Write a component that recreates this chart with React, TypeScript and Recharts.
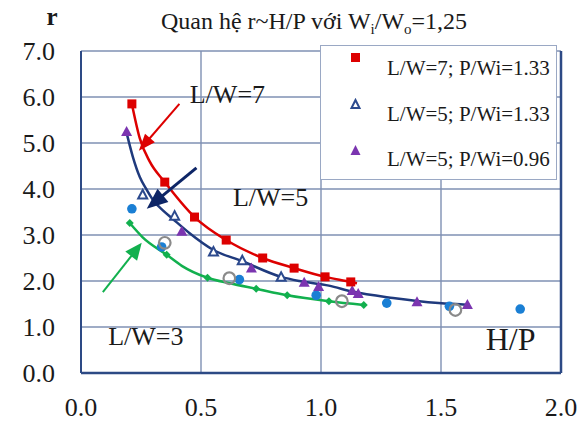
import React from 'react';
import {
  ComposedChart, Line, Scatter, XAxis, YAxis, CartesianGrid,
  ReferenceLine, ReferenceDot, Legend,
} from 'recharts';

// ---------- data ----------
const xTicks = [0, 0.5, 1.0, 1.5, 2.0];
const yTicks = [0, 1, 2, 3, 4, 5, 6, 7];

// L/W=7; P/Wi=1.33 (red squares)
const redSquares = [
  { x: 0.212, y: 5.85 }, { x: 0.349, y: 4.15 }, { x: 0.473, y: 3.39 },
  { x: 0.605, y: 2.89 }, { x: 0.757, y: 2.5 }, { x: 0.888, y: 2.28 },
  { x: 1.017, y: 2.09 }, { x: 1.124, y: 1.98 },
];
// red trend curve
const redCurve = [
  { x: 0.212, y: 5.85 }, { x: 0.245, y: 5.1 }, { x: 0.286, y: 4.6 },
  { x: 0.349, y: 4.15 }, { x: 0.473, y: 3.39 }, { x: 0.605, y: 2.89 },
  { x: 0.757, y: 2.5 }, { x: 0.888, y: 2.28 }, { x: 1.017, y: 2.09 },
  { x: 1.124, y: 1.98 }, { x: 1.15, y: 1.95 },
];
// L/W=5; P/Wi=1.33 (hollow navy triangles)
const navyTriangles = [
  { x: 0.257, y: 3.87 }, { x: 0.39, y: 3.41 }, { x: 0.552, y: 2.63 },
  { x: 0.672, y: 2.44 }, { x: 0.834, y: 2.08 },
];
// L/W=5; P/Wi=0.96 (filled purple triangles)
const purpleTriangles = [
  { x: 0.19, y: 5.24 }, { x: 0.42, y: 3.07 }, { x: 0.71, y: 2.27 },
  { x: 0.93, y: 1.96 }, { x: 0.99, y: 1.87 }, { x: 1.13, y: 1.78 },
  { x: 1.155, y: 1.72 }, { x: 1.4, y: 1.54 }, { x: 1.61, y: 1.48 },
];
// navy trend curve (L/W=5)
const navyCurve = [
  { x: 0.19, y: 5.22 }, { x: 0.216, y: 4.7 }, { x: 0.245, y: 4.26 },
  { x: 0.274, y: 3.98 }, { x: 0.3, y: 3.76 }, { x: 0.34, y: 3.54 },
  { x: 0.378, y: 3.37 }, { x: 0.45, y: 3.05 }, { x: 0.55, y: 2.68 },
  { x: 0.672, y: 2.43 }, { x: 0.834, y: 2.09 }, { x: 0.91, y: 2.0 },
  { x: 1.033, y: 1.9 }, { x: 1.13, y: 1.77 }, { x: 1.3, y: 1.63 },
  { x: 1.49, y: 1.52 }, { x: 1.62, y: 1.48 },
];
// L/W=3 (green diamonds + curve)
const greenDiamonds = [
  { x: 0.203, y: 3.26 }, { x: 0.357, y: 2.57 }, { x: 0.527, y: 2.07 },
  { x: 0.73, y: 1.83 }, { x: 0.859, y: 1.69 }, { x: 1.033, y: 1.56 },
  { x: 1.178, y: 1.48 },
];
const greenCurve = [
  { x: 0.203, y: 3.26 }, { x: 0.257, y: 2.95 }, { x: 0.357, y: 2.57 },
  { x: 0.42, y: 2.33 }, { x: 0.527, y: 2.07 }, { x: 0.62, y: 1.95 },
  { x: 0.73, y: 1.83 }, { x: 0.859, y: 1.69 }, { x: 1.033, y: 1.56 },
  { x: 1.178, y: 1.48 },
];
// other measured points
const blueDots = [
  { x: 0.212, y: 3.57 }, { x: 0.336, y: 2.74 }, { x: 0.66, y: 2.03 },
  { x: 0.98, y: 1.69 }, { x: 1.274, y: 1.52 }, { x: 1.535, y: 1.45 },
  { x: 1.83, y: 1.39 },
];
const grayRings = [
  { x: 0.349, y: 2.83 }, { x: 0.618, y: 2.06 }, { x: 1.087, y: 1.56 },
  { x: 1.56, y: 1.37 },
];

// annotations (data units)
const curveLabels = [
  { text: 'L/W=7', x: 0.61, y: 6.08 },
  { text: 'L/W=5', x: 0.79, y: 3.83 },
  { text: 'L/W=3', x: 0.27, y: 0.8 },
];
const axisNameX = { text: 'H/P', x: 1.79, y: 0.74 };
const redArrow = [{ x: 0.41, y: 5.85 }, { x: 0.241, y: 4.83 }];
const navyArrow = [{ x: 0.481, y: 4.46 }, { x: 0.274, y: 3.57 }];
const greenArrow = [{ x: 0.091, y: 1.76 }, { x: 0.253, y: 2.83 }];

const legendNames = ['L/W=7; P/Wi=1.33', 'L/W=5; P/Wi=1.33', 'L/W=5; P/Wi=0.96'];

// ---------- styles ----------
const FONT = 'Liberation Serif';
const RED = '#dd0000';
const NAVY = '#1f3a7d';
const NAVY_T = '#2c4a8e';
const PURPLE = '#7b35b0';
const BLUE = '#1a7fd4';
const GREEN = '#12b04e';
const GRAY = '#8a8a8a';
const GRID = '#7f90b3';
const FRAME = '#2d4a85';
const TEXT = '#1a1a1a';

const SquareShape = (p: any) => (
  <rect x={p.cx - 4.5} y={p.cy - 4.5} width={9} height={9} fill={RED} />
);
const HollowTri = (p: any) => (
  <polygon
    points={`${p.cx},${p.cy - 5} ${p.cx - 4.5},${p.cy + 3.5} ${p.cx + 4.5},${p.cy + 3.5}`}
    fill="#fff" stroke={NAVY_T} strokeWidth={2}
  />
);
const FilledTri = (p: any) => (
  <polygon
    points={`${p.cx},${p.cy - 6} ${p.cx - 5.5},${p.cy + 4} ${p.cx + 5.5},${p.cy + 4}`}
    fill={PURPLE}
  />
);
const Diamond = (p: any) => (
  <polygon
    points={`${p.cx},${p.cy - 4} ${p.cx + 4},${p.cy} ${p.cx},${p.cy + 4} ${p.cx - 4},${p.cy}`}
    fill={GREEN}
  />
);
const BlueDot = (p: any) => <circle cx={p.cx} cy={p.cy} r={4.8} fill={BLUE} />;
const GrayRing = (p: any) => (
  <circle cx={p.cx} cy={p.cy} r={5.8} fill="none" stroke={GRAY} strokeWidth={2.2} />
);

const makeArrow = (color: string, w: number, headLen: number, headW: number) => (props: any) => {
  const { x1, y1, x2, y2 } = props;
  const dx = x2 - x1;
  const dy = y2 - y1;
  const len = Math.hypot(dx, dy) || 1;
  const ux = dx / len;
  const uy = dy / len;
  const bx = x2 - ux * headLen;
  const by = y2 - uy * headLen;
  const px = -uy;
  const py = ux;
  return (
    <g>
      <line x1={x1} y1={y1} x2={bx + ux * 2} y2={by + uy * 2} stroke={color} strokeWidth={w} />
      <polygon
        points={`${x2},${y2} ${bx + (px * headW) / 2},${by + (py * headW) / 2} ${bx - (px * headW) / 2},${by - (py * headW) / 2}`}
        fill={color}
      />
    </g>
  );
};

const legendMarkers = [
  <rect key="a" x={2} y={2} width={9} height={9} fill={RED} />,
  <polygon key="b" points="6.5,2 2.5,10 10.5,10" fill="#fff" stroke={NAVY_T} strokeWidth={2} />,
  <polygon key="c" points="6.5,1 1.5,11 11.5,11" fill={PURPLE} />,
];

const LegendBox = () => (
  <div
    style={{
      position: 'relative', width: 237, height: 135, background: '#fff',
      border: '1px solid #9aa8c4', boxSizing: 'border-box', fontFamily: FONT,
    }}
  >
    {legendNames.map((name, i) => (
      <React.Fragment key={name}>
        <svg
          width={13} height={13}
          style={{ position: 'absolute', left: 28, top: 5 + i * 46.5 }}
        >
          {legendMarkers[i]}
        </svg>
        <div
          style={{
            position: 'absolute', left: 66, top: 9 + i * 45.5, fontSize: 21,
            lineHeight: '26px', color: TEXT, whiteSpace: 'nowrap', fontFamily: FONT,
          }}
        >
          {name}
        </div>
      </React.Fragment>
    ))}
  </div>
);

const tickStyle = { fontSize: 26, fill: TEXT, fontFamily: FONT };

export default function App() {
  return (
    <div style={{ position: 'relative', width: 579, height: 416, fontFamily: FONT }}>
      <ComposedChart
        width={579}
        height={416}
        margin={{ top: 43, right: 26, bottom: 6, left: 0 }}
        style={{ fontFamily: FONT }}
      >
        <CartesianGrid stroke={GRID} strokeWidth={1.4} />
        <XAxis
          dataKey="x" type="number" domain={[0, 2]} ticks={xTicks}
          tickFormatter={(v: number) => v.toFixed(1)}
          axisLine={{ stroke: FRAME, strokeWidth: 2.5 }} tickLine={false}
          tickSize={0} tickMargin={25} height={45} tick={tickStyle}
          allowDataOverflow
        />
        <YAxis
          type="number" domain={[0, 7]} ticks={yTicks}
          tickFormatter={(v: number) => v.toFixed(1)}
          axisLine={{ stroke: FRAME, strokeWidth: 2 }} tickLine={false}
          tickSize={0} tickMargin={26} width={73} tick={tickStyle}
          allowDataOverflow
        />
        <ReferenceLine x={2} stroke={FRAME} strokeWidth={2.5} />
        <Line data={redCurve} dataKey="y" type="monotone" stroke={RED} strokeWidth={2.5}
          dot={false} isAnimationActive={false} legendType="none" />
        <Line data={navyCurve} dataKey="y" type="monotone" stroke={NAVY} strokeWidth={2.5}
          dot={false} isAnimationActive={false} legendType="none" />
        <Line data={greenCurve} dataKey="y" type="monotone" stroke={GREEN} strokeWidth={2.5}
          dot={false} isAnimationActive={false} legendType="none" />
        <Scatter data={blueDots} dataKey="y" shape={BlueDot} isAnimationActive={false} legendType="none" />
        <Scatter data={navyTriangles} dataKey="y" shape={HollowTri} isAnimationActive={false} name={legendNames[1]} />
        <Scatter data={purpleTriangles} dataKey="y" shape={FilledTri} isAnimationActive={false} name={legendNames[2]} />
        <Scatter data={redSquares} dataKey="y" shape={SquareShape} isAnimationActive={false} name={legendNames[0]} />
        <Scatter data={greenDiamonds} dataKey="y" shape={Diamond} isAnimationActive={false} legendType="none" />
        <Scatter data={grayRings} dataKey="y" shape={GrayRing} isAnimationActive={false} legendType="none" />
        <ReferenceLine segment={redArrow} shape={makeArrow(RED, 2, 17, 13)} />
        <ReferenceLine segment={navyArrow} shape={makeArrow('#0d2566', 3, 21, 17)} />
        <ReferenceLine segment={greenArrow} shape={makeArrow(GREEN, 2, 17, 15)} />
        {curveLabels.map((l) => (
          <ReferenceDot key={l.text} x={l.x} y={l.y} r={0} fill="none" stroke="none"
            label={{ value: l.text, position: 'center', fontSize: 26, fill: TEXT, fontFamily: FONT }} />
        ))}
        <ReferenceDot x={axisNameX.x} y={axisNameX.y} r={0} fill="none" stroke="none"
          label={{ value: axisNameX.text, position: 'center', fontSize: 32, fill: TEXT, fontFamily: FONT }} />
        <Legend
          layout="vertical" align="center" verticalAlign="middle"
          wrapperStyle={{ left: 312, top: 37, width: 237, height: 135 }}
          content={() => <LegendBox />}
        />
      </ComposedChart>
      <svg
        width={587} height={424}
        style={{ position: 'absolute', left: -8, top: -8, pointerEvents: 'none', overflow: 'visible' }}
      >
        <text x={52} y={25} textAnchor="middle" fontSize={25} fontWeight="bold" fill={TEXT} fontFamily={FONT}>r</text>
        <text x={314} y={29} textAnchor="middle" fontSize={24} fill={TEXT} fontFamily={FONT}>
          Quan hệ r~H/P với W<tspan fontSize={15} dy={5}>i</tspan>
          <tspan dy={-5}>/W</tspan><tspan fontSize={15} dy={5}>o</tspan>
          <tspan dy={-5}>=1,25</tspan>
        </text>
      </svg>
    </div>
  );
}
